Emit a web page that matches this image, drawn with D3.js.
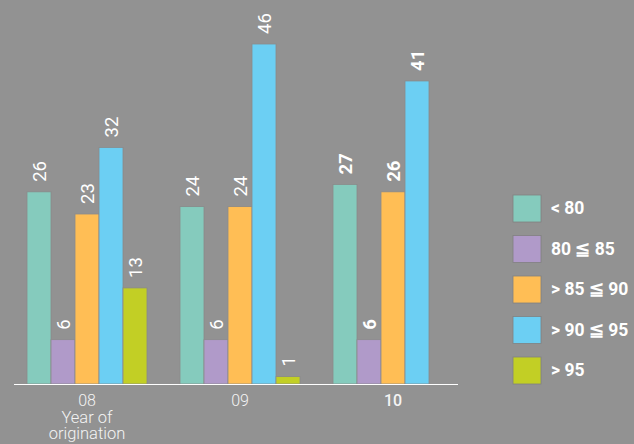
<!DOCTYPE html>
<html><head><meta charset="utf-8">
<script src="https://cdnjs.cloudflare.com/ajax/libs/d3/7.8.5/d3.min.js"></script>
<style>html,body{margin:0;padding:0;background:#929292;}svg{display:block;}</style>
</head><body>
<svg id="c" width="634" height="444"></svg>
<script>
const years = ["08", "09", "10"];
const seriesNames = ["< 80", "80 \u2266 85", "> 85 \u2266 90", "> 90 \u2266 95", "> 95"];
const colors = ["#85cbbd", "#b09ac9", "#ffbe55", "#6ccff3", "#c2cf25"];
const lt80 = [26, 24, 27];
const r80to85 = [6, 6, 6];
const r85to90 = [23, 24, 26];
const r90to95 = [32, 46, 41];
const gt95 = [13, 1, null];
const seriesValues = [lt80, r80to85, r85to90, r90to95, gt95];
const boldYear = [false, false, true];

const svg = d3.select("#c");
const baseY = 384;
const x0 = d3.scaleBand().domain(years).range([27, 453]).paddingInner(33/153).paddingOuter(0);
const x1 = d3.scaleBand().domain(d3.range(seriesNames.length)).range([0, x0.bandwidth()]);
const y = d3.scaleLinear().domain([0, 46]).range([baseY, 44]);
const font = "Roboto, 'Liberation Sans', sans-serif";

const g = svg.append("g");
years.forEach((yr, gi) => {
  seriesValues.forEach((vals, si) => {
    const v = vals[gi];
    if (v == null) return;
    const bx = x0(yr) + x1(si);
    g.append("rect")
      .attr("x", bx).attr("y", y(v))
      .attr("width", x1.bandwidth()).attr("height", baseY - y(v))
      .attr("fill", colors[si])
      .attr("stroke", "#8a8a8a").attr("stroke-width", 0.8);
    const cx = bx + x1.bandwidth() / 2;
    const ty = y(v) - 10;
    g.append("text")
      .attr("transform", `translate(${cx},${ty}) rotate(-90)`)
      .attr("dy", "0.36em")
      .attr("text-anchor", "start")
      .attr("font-family", font)
      .attr("font-size", 18.5)
      .attr("font-weight", boldYear[gi] ? 700 : 400)
      .attr("fill", "#ffffff")
      .text(v);
  });
});

// axis line
svg.append("line").attr("x1", 14).attr("x2", 458).attr("y1", baseY + 0.5).attr("y2", baseY + 0.5)
  .attr("stroke", "#ffffff").attr("stroke-width", 1.2);

// x tick labels
const xAxis = svg.append("g").attr("transform", `translate(0,${baseY})`)
  .call(d3.axisBottom(x0).tickSize(0).tickPadding(11));
xAxis.select(".domain").remove();
xAxis.selectAll("text")
  .attr("font-family", font)
  .attr("font-size", 16)
  .attr("font-weight", (d, i) => boldYear[i] ? 500 : 300)
  .attr("fill", "#f4f4f4");

const cx08 = x0("08") + x0.bandwidth() / 2;
const sub = svg.append("text")
  .attr("text-anchor", "middle")
  .attr("font-family", font)
  .attr("font-size", 16.5).attr("font-weight", 300)
  .attr("fill", "#f4f4f4");
sub.append("tspan").attr("x", cx08).attr("y", 423).text("Year of");
sub.append("tspan").attr("x", cx08).attr("y", 439).text("origination");

// legend
const leg = svg.append("g");
seriesNames.forEach((name, i) => {
  const ly = 195 + i * 40.5;
  leg.append("rect").attr("x", 513).attr("y", ly).attr("width", 28).attr("height", 27)
    .attr("fill", colors[i]).attr("stroke", "#808080").attr("stroke-width", 0.8);
  leg.append("text").attr("x", 551).attr("y", ly + 13).attr("dy", "0.36em")
    .attr("font-family", font)
    .attr("font-size", 17.5).attr("font-weight", 700).attr("fill", "#ffffff")
    .text(name);
});
</script>
</body></html>
